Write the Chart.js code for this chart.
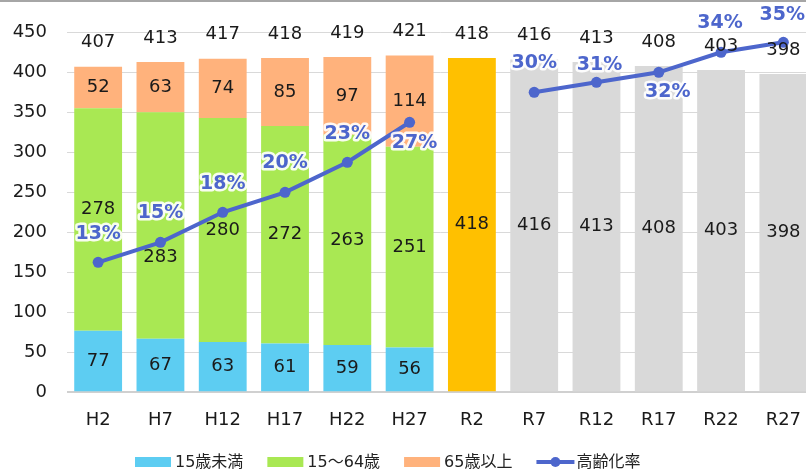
<!DOCTYPE html>
<html lang="ja">
<head>
<meta charset="utf-8">
<title>年齢3区分別人口と高齢化率</title>
<script src="https://cdn.jsdelivr.net/npm/chart.js@4.4.1/dist/chart.umd.min.js"></script>
<style>
  html, body { margin: 0; padding: 0; overflow: hidden; background: #fff; }
  #wrap { position: relative; width: 820px; height: 474px; }
  #topline { position: absolute; left: 0; top: 0; width: 100%; height: 2px; background: #a6a6a6; }
</style>
</head>
<body>
<div id="wrap">
  <canvas id="popChart"></canvas>
  <div id="topline"></div>
</div>
<script>
// 年次
const years = ['H2', 'H7', 'H12', 'H17', 'H22', 'H27', 'R2', 'R7', 'R12', 'R17', 'R22', 'R27'];
// 年齢3区分 (実績)
const under15 = [77, 67, 63, 61, 59, 56, null, null, null, null, null, null];
const age15to64 = [278, 283, 280, 272, 263, 251, null, null, null, null, null, null];
const over65 = [52, 63, 74, 85, 97, 114, null, null, null, null, null, null];
// 総数 (R2以降は総数のみ)
const totalOnly = [null, null, null, null, null, null, 418, 416, 413, 408, 403, 398];
const totals = [407, 413, 417, 418, 419, 421, 418, 416, 413, 408, 403, 398];
// 高齢化率 (%)
const agingRate = [13, 15, 18, 20, 23, 27, null, 30, 31, 32, 34, 35];
const yTicks = [0, 50, 100, 150, 200, 250, 300, 350, 400, 450];

const FONT = '"DejaVu Sans", "Noto Sans CJK JP", sans-serif';
const LINE_COLOR = '#4d66cc';

// ラベル位置の微調整 (px)
const midShift = [-10, 32, 0, 0, 0, 0];
const pctOffset = [[0, -28], [0, -29], [0, -28], [0, -29], [0, -28], [5, 21], null,
                   [0, -29], [3, -17], [9, 20], [-1, -29], [-1, -27]];

// 数値ラベル
const valueLabels = {
    id: 'valueLabels',
    afterDatasetsDraw(chart) {
        const ctx = chart.ctx;
        const yScale = chart.scales.y;
        const xScale = chart.scales.x;
        ctx.save();
        ctx.textAlign = 'center';
        ctx.textBaseline = 'middle';
        ctx.font = '18px ' + FONT;
        ctx.fillStyle = '#1a1a1a';

        chart.data.datasets.forEach((ds, di) => {
            if (ds.type === 'line') return;
            const meta = chart.getDatasetMeta(di);
            meta.data.forEach((bar, i) => {
                const v = ds.data[i];
                if (v == null) return;
                let y = (bar.y + bar.base) / 2;
                if (ds.label === '15～64歳') y += midShift[i] || 0;
                ctx.fillText(v, bar.x, y);
            });
        });

        // 総数
        totals.forEach((t, i) => {
            ctx.fillText(t, xScale.getPixelForValue(i), yScale.getPixelForValue(t) - 24);
        });

        // 高齢化率
        const lineMeta = chart.getDatasetMeta(0);
        ctx.font = 'bold 19px ' + FONT;
        ctx.lineJoin = 'round';
        lineMeta.data.forEach((pt, i) => {
            if (agingRate[i] == null) return;
            const off = pctOffset[i] || [0, -28];
            const txt = agingRate[i] + '%';
            ctx.strokeStyle = 'rgba(255,255,255,0.9)';
            ctx.lineWidth = 5;
            ctx.strokeText(txt, pt.x + off[0], pt.y + off[1]);
            ctx.fillStyle = LINE_COLOR;
            ctx.fillText(txt, pt.x + off[0], pt.y + off[1]);
        });
        ctx.restore();
    }
};

// 凡例 (下部)
const bottomLegend = {
    id: 'bottomLegend',
    afterDraw(chart) {
        const ctx = chart.ctx;
        const items = chart.data.datasets.filter(ds => ds.showInLegend);
        // 系列順: 棒→折れ線
        items.sort((a, b) => (a.type === 'line') - (b.type === 'line'));
        let x = 135;
        const cy = 462;
        ctx.save();
        ctx.font = '16px ' + FONT;
        ctx.textBaseline = 'middle';
        ctx.textAlign = 'left';
        items.forEach(ds => {
            if (ds.type === 'line') {
                ctx.strokeStyle = ds.borderColor;
                ctx.lineWidth = 4;
                ctx.beginPath();
                ctx.moveTo(x, cy);
                ctx.lineTo(x + 38, cy);
                ctx.stroke();
                ctx.fillStyle = ds.borderColor;
                ctx.beginPath();
                ctx.arc(x + 19, cy, 5, 0, Math.PI * 2);
                ctx.fill();
                x += 40;
            } else {
                ctx.fillStyle = ds.backgroundColor;
                ctx.fillRect(x, cy - 5, 36, 10);
                x += 40;
            }
            ctx.fillStyle = '#222';
            ctx.fillText(ds.label, x, cy + 1);
            x += ctx.measureText(ds.label).width + 24;
        });
        ctx.restore();
    }
};

const ctx = document.getElementById('popChart').getContext('2d');
new Chart(ctx, {
    type: 'bar',
    data: {
        labels: years,
        datasets: [
            {
                type: 'line',
                label: '高齢化率',
                data: agingRate,
                yAxisID: 'y1',
                borderColor: LINE_COLOR,
                backgroundColor: LINE_COLOR,
                borderWidth: 4,
                pointRadius: 5.5,
                pointBackgroundColor: LINE_COLOR,
                pointBorderWidth: 0,
                spanGaps: false,
                order: 0,
                showInLegend: true
            },
            { label: '15歳未満', data: under15, backgroundColor: '#5dcdf2', stack: 'pop', order: 1, showInLegend: true },
            { label: '15～64歳', data: age15to64, backgroundColor: '#a9e853', stack: 'pop', order: 1, showInLegend: true },
            { label: '65歳以上', data: over65, backgroundColor: '#ffb27c', stack: 'pop', order: 1, showInLegend: true },
            {
                label: '総数',
                data: totalOnly,
                backgroundColor: years.map(y => y === 'R2' ? '#ffc000' : '#d9d9d9'),
                stack: 'pop',
                order: 1
            }
        ]
    },
    options: {
        responsive: true,
        maintainAspectRatio: false,
        animation: false,
        events: [],
        barPercentage: 0.768,
        categoryPercentage: 1,
        layout: { padding: { top: 32.3, left: 0, right: 3.25, bottom: 0 } },
        plugins: {
            legend: { display: false },
            tooltip: { enabled: false }
        },
        scales: {
            x: {
                stacked: true,
                grid: { display: false, drawTicks: false },
                border: { display: false },
                ticks: { font: { size: 18, family: FONT }, color: '#1a1a1a', padding: 17 },
                afterFit(scale) { scale.height = 81.7; }
            },
            y: {
                stacked: true,
                min: 0,
                max: 450,
                afterBuildTicks(scale) { scale.ticks = yTicks.map(v => ({ value: v })); },
                grid: {
                    drawTicks: false,
                    color: c => c.tick && c.tick.value === 0 ? '#d0d0d0' : '#d9d9d9',
                    lineWidth: c => c.tick && c.tick.value === 0 ? 2 : 1
                },
                border: { display: false },
                ticks: { font: { size: 18, family: FONT }, color: '#1a1a1a', padding: 20 },
                afterFit(scale) { scale.width = 67; }
            },
            y1: {
                display: false,
                min: 0,
                max: 36,
                position: 'right'
            }
        }
    },
    plugins: [valueLabels, bottomLegend]
});
</script>
</body>
</html>
